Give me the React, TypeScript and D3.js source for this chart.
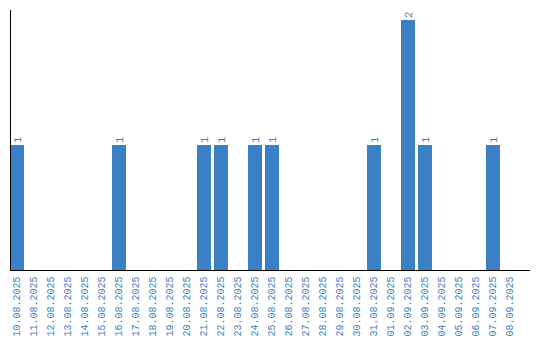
import React from "react";
import * as d3 from "d3";

const dates = [
  "10.08.2025","11.08.2025","12.08.2025","13.08.2025","14.08.2025","15.08.2025",
  "16.08.2025","17.08.2025","18.08.2025","19.08.2025","20.08.2025","21.08.2025",
  "22.08.2025","23.08.2025","24.08.2025","25.08.2025","26.08.2025","27.08.2025",
  "28.08.2025","29.08.2025","30.08.2025","31.08.2025","01.09.2025","02.09.2025",
  "03.09.2025","04.09.2025","05.09.2025","06.09.2025","07.09.2025","08.09.2025",
];
const counts = [1,0,0,0,0,0,1,0,0,0,0,1,1,0,1,1,0,0,0,0,0,1,0,2,1,0,0,0,1,0];

const W = 540, H = 340;
const BLUE = "#3b7fc4";
const FONT = "'Liberation Mono', 'DejaVu Sans Mono', monospace";

export default function App() {
  const x = d3.scaleBand<string>().domain(dates).range([10, 517]).paddingInner(3 / 17).paddingOuter(0);
  const y = d3.scaleLinear().domain([0, 2]).range([270, 20]);
  const data = dates.map((d, i) => ({ d, v: counts[i] }));
  return (
    <svg width={W} height={H} style={{ position: "absolute", left: 0, top: 0 }} fontFamily={FONT}>
      {data.filter(p => p.v > 0).map(p => (
        <g key={p.d}>
          <rect x={x(p.d)} y={y(p.v)} width={x.bandwidth()} height={y(0) - y(p.v)} fill={BLUE} />
          <text
            transform={`translate(${(x(p.d) as number) + x.bandwidth() / 2},${y(p.v) - 2}) rotate(-90)`}
            dy="0.35em" fontSize={10.5} fill={BLUE} textAnchor="start"
          >{p.v}</text>
        </g>
      ))}
      <line x1={10.5} x2={10.5} y1={10} y2={270} stroke="#000" strokeWidth={1} />
      <line x1={10} x2={530} y1={270.5} y2={270.5} stroke="#000" strokeWidth={1} />
      {dates.map(d => (
        <text key={d}
          transform={`translate(${(x(d) as number) + x.bandwidth() / 2},276.5) rotate(-90)`}
          dy="0.32em" fontSize={10} fill={BLUE} textAnchor="end"
        >{d}</text>
      ))}
    </svg>
  );
}
